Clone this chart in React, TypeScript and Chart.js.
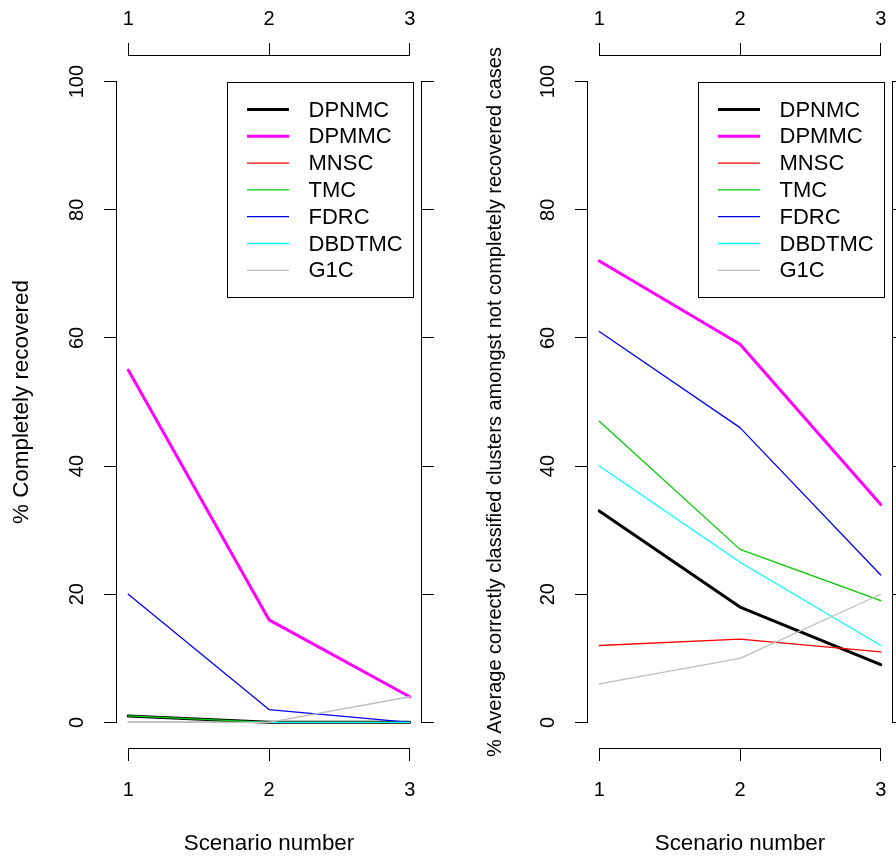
import React, { useEffect, useRef } from "react";
import { Chart, registerables } from "chart.js";

Chart.register(...registerables);

// ---------- data ----------
const scenarios = [1, 2, 3];
const xTicks = [1, 2, 3];
const yTicks = [0, 20, 40, 60, 80, 100];

const seriesNames = ["DPNMC", "DPMMC", "MNSC", "TMC", "FDRC", "DBDTMC", "G1C"];
const seriesColors = ["#000000", "#FF00FF", "#FF0000", "#00CD00", "#0000FF", "#00FFFF", "#BEBEBE"];
const seriesWidths = [3, 3, 1.3, 1.3, 1.3, 1.3, 1.3];

// % Completely recovered
const recDPNMC = [1, 0, 0];
const recDPMMC = [55, 16, 4];
const recMNSC = [0, 0, 0];
const recTMC = [1, 0, 0];
const recFDRC = [20, 2, 0];
const recDBDTMC = [0, 0, 0];
const recG1C = [0, 0, 4];

// % Average correctly classified clusters amongst not completely recovered cases
const avgDPNMC = [33, 18, 9];
const avgDPMMC = [72, 59, 34];
const avgMNSC = [12, 13, 11];
const avgTMC = [47, 27, 19];
const avgFDRC = [61, 46, 23];
const avgDBDTMC = [40, 25, 12];
const avgG1C = [6, 10, 20];

const leftSeries = [recDPNMC, recDPMMC, recMNSC, recTMC, recFDRC, recDBDTMC, recG1C];
const rightSeries = [avgDPNMC, avgDPMMC, avgMNSC, avgTMC, avgFDRC, avgDBDTMC, avgG1C];

const leftTitle = "% Completely recovered";
const rightTitle = "% Average correctly classified clusters amongst not completely recovered cases";
const xTitle = "Scenario number";

// ---------- styling ----------
const FONT_FAMILY = '"Liberation Sans", Arial, Helvetica, sans-serif';
const TICK_SIZE = 20;
const TITLE_SIZE = 22.4;
const LEGEND_SIZE = 22;
const tickFont = { family: FONT_FAMILY, size: TICK_SIZE, lineHeight: 1.2 };
const titleFont = { family: FONT_FAMILY, size: TITLE_SIZE, lineHeight: 1.2 };

const CANVAS_W = 448;
const CANVAS_H = 859;

type Geometry = {
  leftW: number;
  rightW: number;
  topH: number;
  bottomH: number;
  yTitlePad: number;
  yTitleSize: number;
};

const leftGeom: Geometry = { leftW: 117, rightW: 27, topH: 56, bottomH: 111, yTitlePad: 8.6, yTitleSize: TITLE_SIZE };
const rightGeom: Geometry = { leftW: 140, rightW: 4, topH: 56, bottomH: 111, yTitlePad: 35, yTitleSize: 20 };

const align = (v: number) => Math.round(v - 0.5) + 0.5;

const axisLinePlugin = {
  id: "rAxisLines",
  afterDraw(chart: any) {
    const ctx = chart.ctx;
    const { x, x2, y, y2 } = chart.scales;
    ctx.save();
    ctx.strokeStyle = "#000";
    ctx.lineWidth = 1;
    const seg = (a: number, b: number, c: number, d: number) => {
      ctx.beginPath();
      ctx.moveTo(a, b);
      ctx.lineTo(c, d);
      ctx.stroke();
    };
    const hAxis = (s: any, yy: number) => {
      const t = s.ticks;
      const p1 = align(s.getPixelForValue(t[0].value));
      const p2 = align(s.getPixelForValue(t[t.length - 1].value));
      seg(p1 - 0.5, yy, p2 + 0.5, yy);
    };
    const vAxis = (s: any, xx: number) => {
      const t = s.ticks;
      const p1 = align(s.getPixelForValue(t[0].value));
      const p2 = align(s.getPixelForValue(t[t.length - 1].value));
      seg(xx, p1 + 0.5, xx, p2 - 0.5);
    };
    hAxis(x, Math.round(x.top) + 0.5);
    hAxis(x2, Math.round(x2.bottom) - 0.5);
    vAxis(y, Math.round(y.right) - 0.5);
    vAxis(y2, Math.round(y2.left) + 0.5);
    ctx.restore();
  },
};

const legendPlugin = {
  id: "rLegend",
  afterDatasetsDraw(chart: any) {
    const ctx = chart.ctx;
    const area = chart.chartArea;
    const ds = chart.data.datasets;
    ctx.save();
    ctx.font = `${LEGEND_SIZE}px ${FONT_FAMILY}`;
    const maxW = Math.max(...ds.map((d: any) => ctx.measureText(d.label).width));
    const w = Math.round(81 + maxW + 11);
    const rowH = 26.8;
    const pad = 27;
    const h = Math.round(pad * 2 + rowH * (ds.length - 1));
    const right = Math.round(area.right - 8) + 0.5;
    const left = right - w;
    const top = Math.round(area.top + 26) + 0.5;
    ctx.fillStyle = "#fff";
    ctx.fillRect(left, top, w, h);
    ctx.strokeStyle = "#000";
    ctx.lineWidth = 1;
    ctx.strokeRect(left, top, w, h);
    ds.forEach((d: any, i: number) => {
      const cy = top + pad + i * rowH;
      ctx.strokeStyle = d.borderColor;
      ctx.lineWidth = d.borderWidth;
      ctx.lineCap = "butt";
      ctx.beginPath();
      ctx.moveTo(left + 19.5, cy);
      ctx.lineTo(left + 61.5, cy);
      ctx.stroke();
      ctx.fillStyle = "#000";
      ctx.textBaseline = "middle";
      ctx.textAlign = "left";
      ctx.fillText(d.label, left + 81, cy + 1);
    });
    ctx.restore();
  },
};

function makeConfig(series: number[][], yTitle: string, g: Geometry): any {
  const datasets = series.map((vals, i) => ({
    label: seriesNames[i],
    data: scenarios.map((s, j) => ({ x: s, y: vals[j] })),
    borderColor: seriesColors[i],
    backgroundColor: seriesColors[i],
    borderWidth: seriesWidths[i],
    pointRadius: 0,
    pointHoverRadius: 0,
    tension: 0,
    fill: false,
    borderCapStyle: "round",
    borderJoinStyle: "round",
    order: series.length - i,
  }));

  const tickGrid = {
    drawOnChartArea: false,
    drawTicks: true,
    tickLength: 13,
    tickColor: "#000",
    tickWidth: 1,
    color: "#000",
    lineWidth: 1,
  };

  const noPadX = (s: any, height: number) => {
    s.height = height;
    s.paddingLeft = 0;
    s.paddingRight = 0;
  };
  const noPadY = (s: any, width: number) => {
    s.width = width;
    s.paddingTop = 0;
    s.paddingBottom = 0;
  };

  return {
    type: "line",
    data: { datasets },
    options: {
      animation: false,
      responsive: false,
      devicePixelRatio: 1,
      events: [],
      layout: { padding: 0 },
      plugins: { legend: { display: false }, tooltip: { enabled: false }, title: { display: false } },
      scales: {
        x: {
          type: "linear",
          position: "bottom",
          min: 0.92,
          max: 3.08,
          afterBuildTicks: (s: any) => {
            s.ticks = xTicks.map((v) => ({ value: v }));
          },
          afterFit: (s: any) => noPadX(s, g.bottomH),
          border: { display: false },
          grid: tickGrid,
          ticks: {
            color: "#000",
            font: tickFont,
            padding: 17,
            minRotation: 0,
            maxRotation: 0,
            autoSkip: false,
            callback: (v: any) => String(v),
          },
          title: {
            display: true,
            text: xTitle,
            color: "#000",
            font: titleFont,
            padding: { top: 0, bottom: 2 },
          },
        },
        x2: {
          type: "linear",
          axis: "x",
          position: "top",
          min: 0.92,
          max: 3.08,
          afterBuildTicks: (s: any) => {
            s.ticks = xTicks.map((v) => ({ value: v }));
          },
          afterFit: (s: any) => noPadX(s, g.topH),
          border: { display: false },
          grid: tickGrid,
          ticks: {
            color: "#000",
            font: tickFont,
            padding: 12,
            minRotation: 0,
            maxRotation: 0,
            autoSkip: false,
            callback: (v: any) => String(v),
          },
        },
        y: {
          type: "linear",
          position: "left",
          min: -4,
          max: 104,
          afterBuildTicks: (s: any) => {
            s.ticks = yTicks.map((v) => ({ value: v }));
          },
          afterFit: (s: any) => noPadY(s, g.leftW),
          border: { display: false },
          grid: tickGrid,
          ticks: {
            color: "#000",
            font: tickFont,
            padding: 10,
            minRotation: 90,
            maxRotation: 90,
            crossAlign: "center",
            autoSkip: false,
            callback: (v: any) => String(v),
          },
          title: {
            display: true,
            text: yTitle,
            color: "#000",
            font: { family: FONT_FAMILY, size: g.yTitleSize, lineHeight: 1.2 },
            padding: { top: g.yTitlePad, bottom: 0 },
          },
        },
        y2: {
          type: "linear",
          axis: "y",
          position: "right",
          min: -4,
          max: 104,
          afterBuildTicks: (s: any) => {
            s.ticks = yTicks.map((v) => ({ value: v }));
          },
          afterFit: (s: any) => noPadY(s, g.rightW),
          border: { display: false },
          grid: tickGrid,
          ticks: { display: false },
        },
      },
    },
    plugins: [axisLinePlugin, legendPlugin],
  };
}

function Panel(props: { series: number[][]; yTitle: string; geom: Geometry; left: number }) {
  const ref = useRef<HTMLCanvasElement | null>(null);
  useEffect(() => {
    if (!ref.current) return;
    const chart = new Chart(ref.current, makeConfig(props.series, props.yTitle, props.geom));
    return () => chart.destroy();
  }, []);
  return (
    <canvas
      ref={ref}
      width={CANVAS_W}
      height={CANVAS_H}
      style={{ position: "absolute", left: props.left, top: 0, width: CANVAS_W, height: CANVAS_H, display: "block" }}
    />
  );
}

export default function App() {
  return (
    <div style={{ position: "absolute", left: 0, top: 0, width: 896, height: 859, background: "#fff", overflow: "hidden" }}>
      <Panel series={leftSeries} yTitle={leftTitle} geom={leftGeom} left={0} />
      <Panel series={rightSeries} yTitle={rightTitle} geom={rightGeom} left={448} />
    </div>
  );
}
